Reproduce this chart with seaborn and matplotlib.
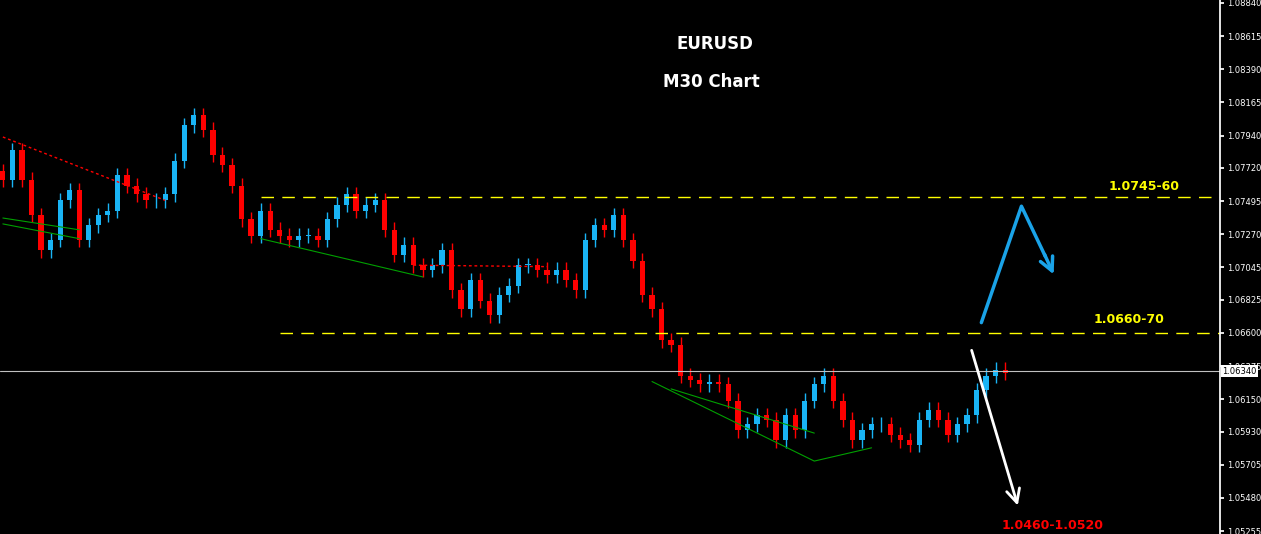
import numpy as np
import pandas as pd
import matplotlib
matplotlib.use("Agg")
import matplotlib.pyplot as plt
import seaborn as sns

# closes, one per candle
closes = [1.0764, 1.0784, 1.0764, 1.0740, 1.0716, 1.0723, 1.0750, 1.0757, 1.0723, 1.0733,
          1.0740, 1.0743, 1.0767, 1.0760, 1.0754, 1.0750, 1.0750, 1.0754, 1.0777, 1.0801,
          1.0808, 1.0798, 1.0781, 1.0774, 1.0760, 1.0737, 1.0726, 1.0743, 1.0730, 1.0726,
          1.0723, 1.0726, 1.0726, 1.0723, 1.0737, 1.0747, 1.0754, 1.0743, 1.0747, 1.0750,
          1.0730, 1.0713, 1.0720, 1.0706, 1.0703, 1.0706, 1.0716, 1.0689, 1.0676, 1.0696,
          1.0682, 1.0672, 1.0686, 1.0692, 1.0706, 1.0706, 1.0703, 1.0699, 1.0703, 1.0696,
          1.0689, 1.0723, 1.0733, 1.0730, 1.0740, 1.0723, 1.0709, 1.0686, 1.0676, 1.0655,
          1.0652, 1.0631, 1.0628, 1.0625, 1.0627, 1.0625, 1.0614, 1.0594, 1.0598, 1.0604,
          1.0601, 1.0587, 1.0604, 1.0594, 1.0614, 1.0625, 1.0631, 1.0614, 1.0601, 1.0587,
          1.0594, 1.0598, 1.0598, 1.0591, 1.0587, 1.0584, 1.0601, 1.0608, 1.0601, 1.0591,
          1.0598, 1.0604, 1.0621, 1.0631, 1.0635, 1.0633]
first_open = 1.0770
wick = 0.0005

yticks = [1.08840, 1.08615, 1.08390, 1.08165, 1.07940, 1.07720, 1.07495, 1.07270,
          1.07045, 1.06825, 1.06600, 1.06375, 1.06150, 1.05930, 1.05705, 1.05480, 1.05255]
current_price = 1.06340

df = pd.DataFrame({"close": closes})
df["open"] = df["close"].shift(1).fillna(first_open)
df["high"] = df[["open", "close"]].max(axis=1) + wick
df["low"] = df[["open", "close"]].min(axis=1) - wick
df["i"] = np.arange(len(df))

sns.set_theme(style="dark", rc={"axes.facecolor": "black", "figure.facecolor": "black"})

fig = plt.figure(figsize=(12.61, 5.34), dpi=100)
ax = fig.add_axes([0, 0, 1220 / 1261, 1])

up_col, dn_col = "#19b4f5", "#ff0000"
for _, r in df.iterrows():
    col = up_col if r["close"] >= r["open"] else dn_col
    ax.vlines(r["i"], r["low"], r["high"], color=col, lw=1)
    lo, hi = sorted([r["open"], r["close"]])
    ax.bar(r["i"], max(hi - lo, 0.00005), bottom=lo, width=0.55, color=col, lw=0)

# trend lines
green = [([0, 8], [1.0738, 1.0730]), ([0, 8], [1.0734, 1.0724]), ([27, 44], [1.0724, 1.0698]),
         ([68, 85, 91], [1.0627, 1.0573, 1.0582]), ([70, 85], [1.0622, 1.0592])]
for xs, ys in green:
    sns.lineplot(x=xs, y=ys, ax=ax, color="#00a000", lw=0.8, estimator=None, sort=False)
for xs, ys in [([0, 17], [1.0793, 1.0750]), ([43, 57], [1.0706, 1.0705])]:
    sns.lineplot(x=xs, y=ys, ax=ax, color="red", lw=1, ls=(0, (2, 2)), estimator=None, sort=False)

ax.hlines(1.0752, 27, 128, color="yellow", lw=1, linestyles=(0, (9, 6)))
ax.hlines(1.0660, 29, 128, color="yellow", lw=1, linestyles=(0, (9, 6)))
ax.axhline(current_price, color="#c0c0c0", lw=0.8)

ax.text(115.8, 1.0757, "1.0745-60", color="yellow", fontsize=9, fontweight="bold")
ax.text(114.3, 1.0667, "1.0660-70", color="yellow", fontsize=9, fontweight="bold")
ax.text(74.6, 1.0853, "EURUSD", color="white", fontsize=12, fontweight="bold", ha="center")
ax.text(74.2, 1.0827, "M30 Chart", color="white", fontsize=12, fontweight="bold", ha="center")
ax.text(110, 1.0527, "1.0460-1.0520", color="red", fontsize=9, fontweight="bold", ha="center")

ax.plot([102.5, 106.7, 109.2], [1.0667, 1.0746, 1.0712], color="#1aa3e8", lw=2.5)
ax.annotate("", xy=(110.2, 1.0698), xytext=(109.0, 1.0715),
            arrowprops=dict(arrowstyle="->,head_width=0.4,head_length=0.8", color="#1aa3e8", lw=2.5))
ax.annotate("", xy=(106.4, 1.0541), xytext=(101.4, 1.0650),
            arrowprops=dict(arrowstyle="->,head_width=0.4,head_length=0.8", color="white", lw=2))

ax.set_xlim(-0.3, 127.5)
ax.set_ylim(1.05235, 1.08860)
ax.yaxis.tick_right()
ax.set_yticks(yticks)
ax.set_yticklabels([f"{v:.5f}" for v in yticks])
ax.tick_params(axis="y", colors="white", labelsize=6, length=3, direction="out", pad=2)
ax.set_xticks([])
ax.grid(False)
for s in ["top", "left", "bottom"]:
    ax.spines[s].set_visible(False)
ax.spines["right"].set_color("white")
ax.text(1.002, current_price, f"{current_price:.5f}", transform=ax.get_yaxis_transform(),
        color="black", fontsize=6, va="center", ha="left",
        bbox=dict(facecolor="white", edgecolor="none", pad=1))

fig.savefig("out.png", dpi=100, facecolor="black")
